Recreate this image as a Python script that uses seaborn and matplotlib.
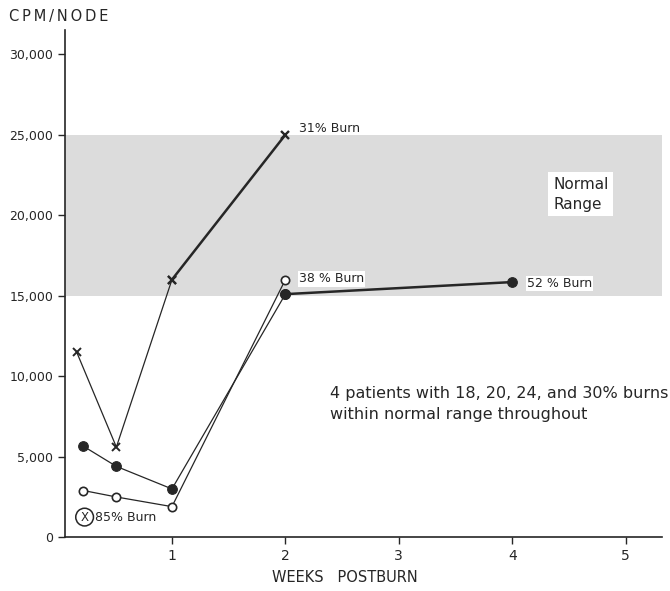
import matplotlib
matplotlib.use("Agg")
import matplotlib.pyplot as plt
import seaborn as sns
import numpy as np

# ---- data ----
weeks_85 = [0.16, 0.51, 1.0]
cpm_85 = [11500, 5600, 16000]
weeks_31 = [1.0, 2.0]
cpm_31 = [16000, 25000]
weeks_52 = [0.22, 0.51, 1.0, 2.0, 4.0]
cpm_52 = [5650, 4400, 3000, 15100, 15850]
weeks_38 = [0.22, 0.51, 1.0, 2.0]
cpm_38 = [2900, 2500, 1900, 16000]
normal_range = [15000, 25000]
x_ticks = [1, 2, 3, 4, 5]
y_ticks = [0, 5000, 10000, 15000, 20000, 25000, 30000]
y_tick_labels = ["0", "5,000", "10,000", "15,000", "20,000", "25,000", "30,000"]

sns.set_style("ticks")
plt.rcParams['font.family'] = ['DejaVu Sans']

INK = '#262626'
fig = plt.figure(figsize=(6.7, 5.91), dpi=100)
ax = fig.add_axes([0.097, 0.091, 0.891, 0.858])

ax.axhspan(normal_range[0], normal_range[1], xmin=0, xmax=1, facecolor='#dcdcdc',
           edgecolor='none', zorder=0)

# 85% burn (X markers), thin line
sns.lineplot(x=weeks_85, y=cpm_85, ax=ax, color=INK, lw=0.9, marker='x',
             markersize=6, markeredgewidth=1.4, markeredgecolor=INK, zorder=3)
# 31% burn, thick
sns.lineplot(x=weeks_31, y=cpm_31, ax=ax, color=INK, lw=1.8, marker='x',
             markersize=6, markeredgewidth=1.7, markeredgecolor=INK, zorder=3)
# 52% burn, filled circles: thin then thick
sns.lineplot(x=weeks_52[:4], y=cpm_52[:4], ax=ax, color=INK, lw=0.9, marker='o',
             markersize=7, markerfacecolor=INK, markeredgecolor=INK, zorder=4)
sns.lineplot(x=weeks_52[3:], y=cpm_52[3:], ax=ax, color=INK, lw=1.8, marker='o',
             markersize=7, markerfacecolor=INK, markeredgecolor=INK, zorder=4)
# 38% burn, open circles
sns.lineplot(x=weeks_38, y=cpm_38, ax=ax, color=INK, lw=0.9, marker='o',
             markersize=6, markerfacecolor='white', markeredgecolor=INK,
             markeredgewidth=1.2, zorder=5)

ax.set_xlim(0.057, 5.32)
ax.set_ylim(0, 31500)
ax.set_xticks(x_ticks)
ax.set_xticklabels([str(v) for v in x_ticks], fontsize=10)
ax.set_yticks(y_ticks)
ax.set_yticklabels(y_tick_labels, fontsize=9)
ax.tick_params(axis='both', direction='out', length=5, width=1, color=INK,
               labelcolor=INK)
sns.despine(ax=ax)
for s in ['left', 'bottom']:
    ax.spines[s].set_linewidth(1.2)
    ax.spines[s].set_color(INK)
ax.set_xlabel("")
ax.set_ylabel("")

fig.text(0.014, 0.972, "\u2009".join("CPM/NODE"), fontsize=10.5,
         color=INK, va='center', ha='left')
fig.text(0.515, 0.022, "WEEKS   POSTBURN",
         fontsize=10.5, color=INK, ha='center', va='center')

tk = dict(fontsize=9, color=INK, va='center', ha='left')
ax.text(2.12, 25400, "31% Burn", **tk)
ax.text(2.12, 16050, "38 % Burn",
        bbox=dict(boxstyle='square,pad=0.1', fc='white', ec='none'), **tk)
ax.text(4.13, 15750, "52 % Burn",
        bbox=dict(boxstyle='square,pad=0.1', fc='white', ec='none'), **tk)
ax.text(4.36, 21300, "Normal\nRange", fontsize=11, color=INK, va='center',
        ha='left', linespacing=1.4,
        bbox=dict(boxstyle='square,pad=0.3', fc='white', ec='none'))
ax.text(2.39, 8300, "4 patients with 18, 20, 24, and 30% burns\nwithin normal range throughout",
        fontsize=11.5, color=INK, va='center', ha='left', linespacing=1.5)
ax.text(0.23, 1250, "X", fontsize=8.5, color=INK, ha='center', va='center',
        bbox=dict(boxstyle='circle,pad=0.2', fc='white', ec=INK, lw=1.1))
ax.text(0.32, 1250, "85% Burn", **tk)

fig.savefig("out.png", dpi=100, facecolor='white')
